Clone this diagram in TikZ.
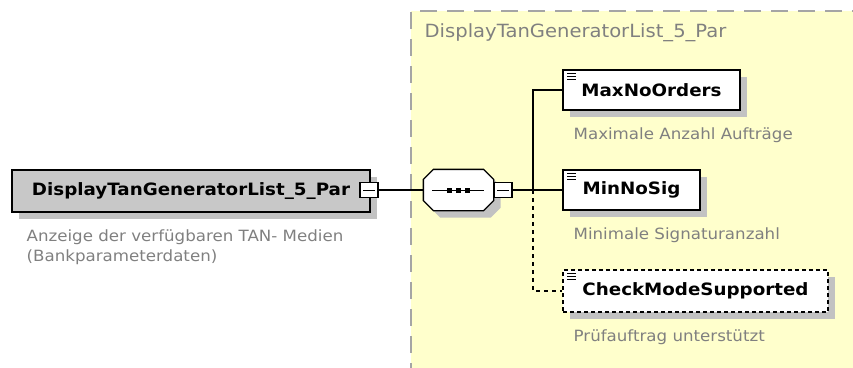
\documentclass[tikz,border=0pt]{standalone}
\usepackage{fontspec}
\setmainfont[FakeStretch=1.075]{DejaVu Sans}
\usetikzlibrary{shadows}
\definecolor{grpyellow}{RGB}{255,255,204}
\definecolor{boxgray}{RGB}{200,200,200}
\definecolor{shadowgray}{RGB}{194,194,194}
\definecolor{descgray}{RGB}{128,128,128}
\definecolor{dashgray}{RGB}{165,165,165}
\begin{document}
\begin{tikzpicture}[x=1pt,y=-1pt,line width=1.3pt,
    shade/.style={drop shadow={shadow xshift=7pt,shadow yshift=-7pt,fill=shadowgray,opacity=1}},
    elem/.style={draw,fill=white,shade,minimum height=40pt,inner sep=0pt,
      font=\fontsize{17}{18}\selectfont\bfseries,
      path picture={\foreach \ly in {3.5,6.5,9.5}
        \draw[line width=1pt,solid] ([shift={(4,\ly)}]path picture bounding box.north west) -- ++(9,0);}},
    minus/.style={draw,fill=white,minimum width=18pt,minimum height=15pt,inner sep=0pt,
      path picture={\draw[line width=1pt] ([xshift=3pt]path picture bounding box.west) -- ([xshift=-3pt]path picture bounding box.east);}},
    desc/.style={anchor=west,text=descgray,font=\fontsize{15.5}{16}\selectfont,inner sep=0pt}]
    \useasboundingbox (0,0) rectangle (853,367);
    % group background
    \fill[grpyellow] (411,11) rectangle (870,380);
    \draw[dashgray,line width=1.5pt,dash pattern=on 17pt off 10pt] (411,380) -- (411,11) -- (870,11);
    \node[anchor=west,text=descgray,font=\fontsize{18.2}{18}\selectfont,inner sep=0pt] (grptitle) at (424,33) {DisplayTanGeneratorList\_5\_Par};
    % root element
    \node[draw,fill=boxgray,shade,minimum width=358pt,minimum height=42pt,inner sep=0pt,
      font=\fontsize{17}{18}\selectfont\bfseries] (root) at (191,191) {DisplayTanGeneratorList\_5\_Par};
    \node[minus] (rootminus) at (369,190) {};
    \node[desc] (rootdesc) at (26,237) {Anzeige der verfügbaren TAN- Medien};
    \node[desc] (rootdesc2) at (26,257) {(Bankparameterdaten)};
    % sequence
    \node[minimum width=69pt,minimum height=40pt,inner sep=0pt] (seq) at (458.5,190) {};
    \draw[fill=white,shade] ([xshift=10pt]seq.north west) -- ([xshift=-10pt]seq.north east)
      -- ([yshift=-10pt]seq.north east) -- ([yshift=10pt]seq.south east)
      -- ([xshift=-10pt]seq.south east) -- ([xshift=10pt]seq.south west)
      -- ([yshift=10pt]seq.south west) -- ([yshift=-10pt]seq.north west) -- cycle;
    \draw[line width=1pt] ([xshift=9pt]seq.west) -- ([xshift=-10pt]seq.east);
    \foreach \dx in {-9,0,9}
      \fill ([xshift=\dx pt]seq.center) +(-2.5,-2.5) rectangle +(2.5,2.5);
    \node[minus] (seqminus) at (503,190) {};
    \draw (rootminus.east) -- (seq.west);
    % children
    \node[elem,minimum width=177pt] (maxno) at (651.5,90) {MaxNoOrders};
    \node[elem,minimum width=137pt] (minno) at (631.5,190) {MinNoSig};
    \node[elem,dash pattern=on 4pt off 3pt,minimum width=265pt,minimum height=42pt] (check) at (695.5,291) {CheckModeSupported};
    \node[desc] (maxnodesc) at (573,135) {Maximale Anzahl Aufträge};
    \node[desc] (minnodesc) at (573,235) {Minimale Signaturanzahl};
    \node[desc] (checkdesc) at (573,337) {Prüfauftrag unterstützt};
    \coordinate (fork) at (533,190);
    \draw (seqminus.east) -- (fork);
    \draw (fork) |- (maxno.west);
    \draw (fork) -- (minno.west);
    \draw[dash pattern=on 4pt off 4pt] (fork) |- (check.west);
\end{tikzpicture}
\end{document}
